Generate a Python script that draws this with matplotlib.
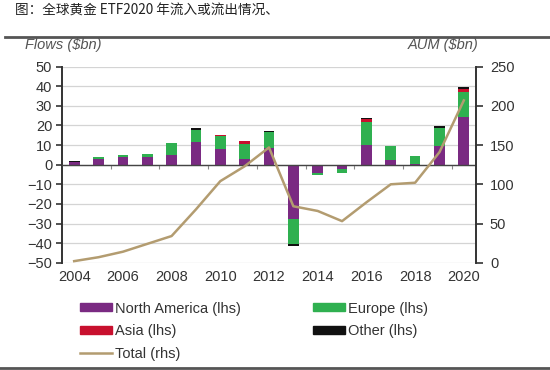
import matplotlib
matplotlib.use("Agg")
import matplotlib.pyplot as plt
import numpy as np
from matplotlib.patches import Patch
from matplotlib.lines import Line2D

plt.rcParams['font.family'] = ['Liberation Sans', 'DejaVu Sans']

years = list(range(2004, 2021))
north_america = [1.5, 2.7, 3.7, 3.8, 4.8, 11.7, 7.8, 2.8, 8.3, -27.5, -4.2, -2.4, 10.0, 2.5, 0.3, 9.5, 24.2]
europe = [0.0, 1.0, 1.5, 1.7, 6.2, 6.1, 6.7, 8.0, 8.4, -13.0, -1.1, -1.6, 11.7, 7.2, 4.3, 9.3, 12.8]
asia = [0.0, 0.0, 0.0, 0.0, 0.3, 0.0, 0.5, 1.2, 0.0, 0.0, 0.0, 0.0, 1.6, 0.0, 0.0, 0.0, 1.5]
other = [0.3, 0.0, 0.0, 0.0, 0.0, 1.0, 0.0, 0.0, 0.3, -0.8, 0.0, 0.0, 0.5, 0.0, 0.0, 0.7, 1.0]
aum_total = [2, 7, 14, 24, 34, 68, 104, 123, 147, 72, 66, 53, 77, 100, 102, 141, 207]

series = [
    ("North America (lhs)", north_america, "#7a2a82"),
    ("Europe (lhs)", europe, "#2fb050"),
    ("Asia (lhs)", asia, "#c8102e"),
    ("Other (lhs)", other, "#111111"),
]
line_color = "#b39c70"
tick_color = "#333333"
fs = 10.5

fig = plt.figure(figsize=(5.5, 3.7), dpi=100)
ax = fig.add_axes([62 / 550, 1 - 262.7 / 370, (476 - 62) / 550, (262.7 - 66.7) / 370])

x = np.array(years)
pos_bottom = np.zeros(len(years))
neg_bottom = np.zeros(len(years))
for name, vals, color in series:
    vals = np.array(vals)
    bottom = np.where(vals >= 0, pos_bottom, neg_bottom)
    ax.bar(x, vals, bottom=bottom, width=0.44, color=color, zorder=3)
    pos_bottom += np.where(vals > 0, vals, 0)
    neg_bottom += np.where(vals < 0, vals, 0)

ax.set_xlim(2003.5, 2020.5)
ax.set_ylim(-50, 50)
ax.set_yticks(range(-50, 51, 10))
ax.yaxis.grid(True, color="#d4d4d4", lw=0.9, zorder=0)
ax.set_axisbelow(True)
ax.axhline(0, color="#444444", lw=1.0, zorder=4)
ax.set_xticks(range(2004, 2021, 2))
ax.tick_params(axis='x', length=0, pad=5, labelsize=fs, colors=tick_color)
ax.tick_params(axis='y', direction='out', length=4, width=1.2, labelsize=fs,
               colors=tick_color, pad=3)
for s in ['top', 'right', 'bottom']:
    ax.spines[s].set_visible(False)
ax.spines['left'].set_color("#333333")
ax.spines['left'].set_linewidth(1.4)

# small category ticks hanging below the zero line
zero_axis = ax.secondary_xaxis(0.5)
zero_axis.set_xticks(np.arange(2005.5, 2020, 2), labels=[])
zero_axis.tick_params(axis='x', which='both', top=False, bottom=True,
                      labeltop=False, labelbottom=False,
                      direction='out', length=3, width=0.8, colors="#888888")
for s in zero_axis.spines.values():
    s.set_visible(False)

ax2 = ax.twinx()
ax2.plot(years, aum_total, color=line_color, lw=1.8, zorder=5)
ax2.set_ylim(0, 250)
ax2.set_yticks(range(0, 251, 50))
ax2.tick_params(axis='y', direction='out', length=5, width=1.2, labelsize=fs,
                colors=tick_color, pad=5)
for s in ['top', 'left', 'bottom']:
    ax2.spines[s].set_visible(False)
ax2.spines['right'].set_color("#333333")
ax2.spines['right'].set_linewidth(1.4)

# axis captions
fig.text(25 / 550, 1 - 45 / 370, "Flows ($bn)", fontsize=fs, style='italic',
         color="#555555", va='center')
fig.text(408 / 550, 1 - 45 / 370, "AUM ($bn)", fontsize=fs, style='italic',
         color="#555555", va='center')

# title and rules
fig.text(15 / 550, 1 - 11 / 370, "图：全球黄金 ETF2020 年流入或流出情况、", fontsize=9.8,
         family=['Noto Sans CJK SC', 'DejaVu Sans'], color="#222222", va='center')
fig.add_artist(Line2D([5 / 550, 1], [1 - 37 / 370] * 2, color="#555555", lw=2))
fig.add_artist(Line2D([0, 1], [1 - 368 / 370] * 2, color="#555555", lw=2))

# legend
handles = {name: Patch(color=color) for name, vals, color in series}
total_handle = Line2D([], [], color=line_color, lw=1.8)
leg_kw = dict(frameon=False, fontsize=fs, handlelength=2.2, handleheight=0.5,
              handletextpad=0.2, labelspacing=0.6, borderaxespad=0, borderpad=0,
              loc='upper left', labelcolor=tick_color)
leg1 = fig.legend([handles["North America (lhs)"], handles["Asia (lhs)"], total_handle],
                  ["North America (lhs)", "Asia (lhs)", "Total (rhs)"],
                  bbox_to_anchor=(80 / 550, 1 - 301.5 / 370), **leg_kw)
leg2 = fig.legend([handles["Europe (lhs)"], handles["Other (lhs)"]],
                  ["Europe (lhs)", "Other (lhs)"],
                  bbox_to_anchor=(313 / 550, 1 - 301.5 / 370), **leg_kw)

fig.savefig("out.png", dpi=100)
